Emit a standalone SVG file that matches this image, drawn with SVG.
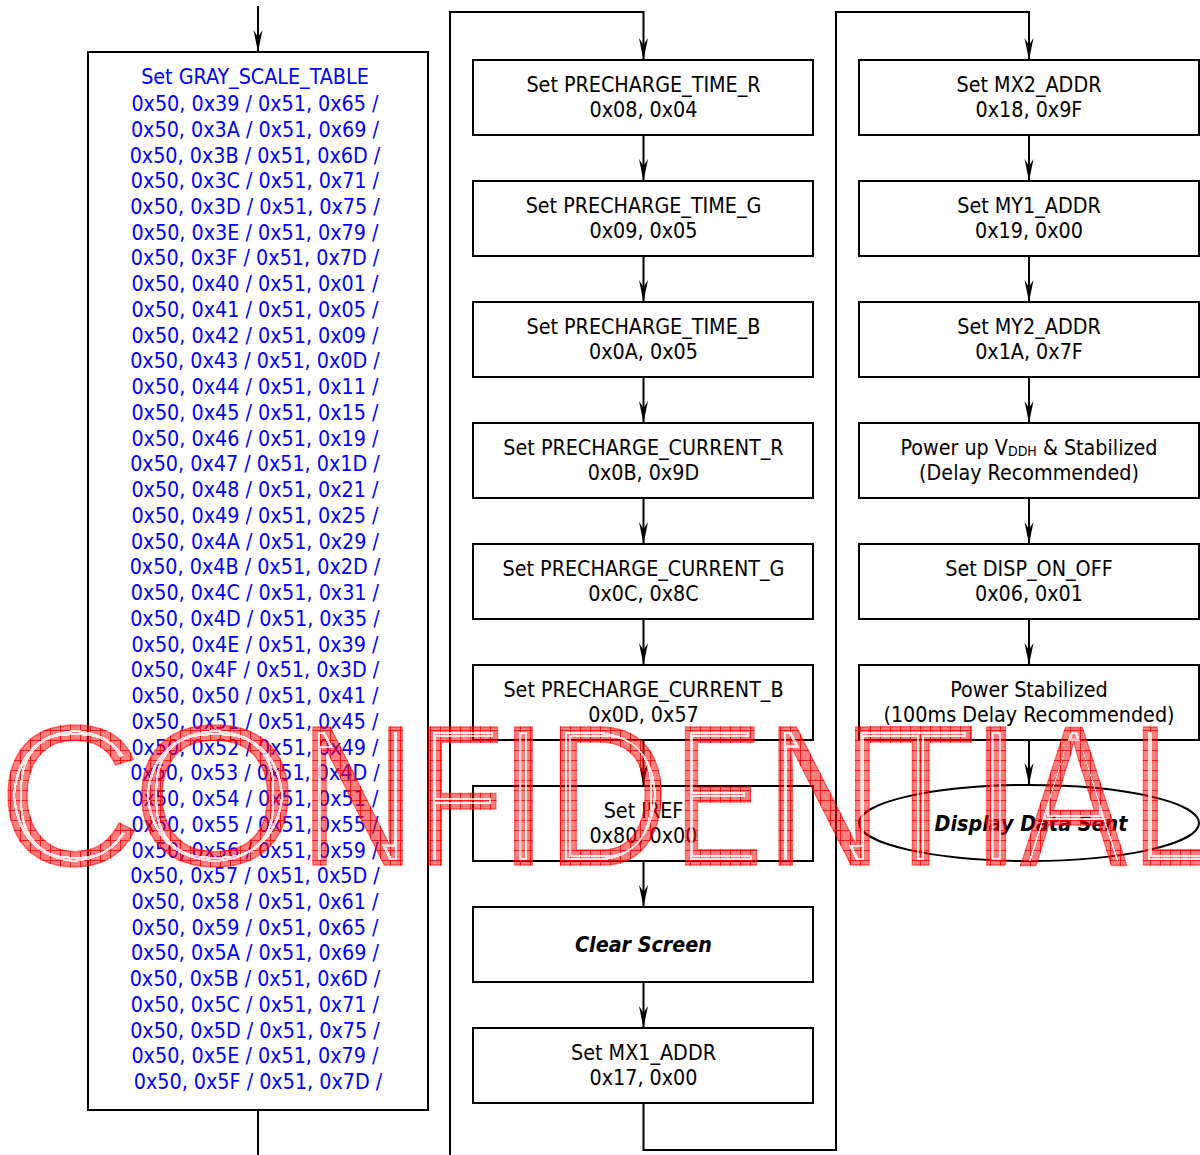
<svg xmlns="http://www.w3.org/2000/svg" width="1200" height="1155" viewBox="0 0 1200 1155">
<style>
.bx{fill:#fff;stroke:#000;stroke-width:2}
.t{font-family:"DejaVu Sans","Liberation Sans",sans-serif;font-stretch:condensed;font-size:21.3px;text-anchor:middle;fill:#000}
.bl{fill:#0000ff}
.bi{font-weight:bold;font-style:italic}
.cn{fill:none;stroke:#000;stroke-width:2}
.wm{font-family:"Liberation Sans",Arial,sans-serif;font-size:200px;fill:url(#hatch);stroke:url(#hatch);stroke-width:1.5}
</style>
<defs>
<marker id="ah" markerUnits="userSpaceOnUse" markerWidth="22" markerHeight="10" refX="22" refY="5" orient="auto" viewBox="0 0 22 10">
<path d="M0,0.5 L22,5 L0,9.5 L7,5 Z" fill="#000"/>
</marker>
<pattern id="hatch" patternUnits="userSpaceOnUse" width="10" height="10">
<rect width="10" height="10" fill="#ff0000" fill-opacity="0.5"/>
<path d="M0,0.5 H10 M0.5,0 V10" stroke="#ff0000" stroke-width="1" stroke-opacity="0.8"/>
</pattern>
<filter id="wmf" filterUnits="userSpaceOnUse" x="-20" y="680" width="1240" height="220">
<feColorMatrix in="SourceAlpha" type="matrix" values="0 0 0 0 0 0 0 0 0 0 0 0 0 0 0 0 0 0 20 0" result="solid"/>
<feMorphology in="solid" operator="erode" radius="6" result="e1"/>
<feMorphology in="solid" operator="erode" radius="8" result="e2"/>
<feComposite in="e1" in2="e2" operator="out" result="ring"/>
<feFlood flood-color="#ffffff" flood-opacity="0.65"/>
<feComposite in2="ring" operator="in" result="wl"/>
<feMerge><feMergeNode in="SourceGraphic"/><feMergeNode in="wl"/></feMerge>
</filter>
</defs>
<rect width="1200" height="1155" fill="#fff"/>

<g id="connectors">
<path class="cn" d="M258,6 V52" marker-end="url(#ah)"/>
<path class="cn" d="M258,1110 V1155"/>
<path class="cn" d="M450,1155 V12 H643.5 V60" marker-end="url(#ah)"/>
<path class="cn" d="M643.5,135 V181" marker-end="url(#ah)"/>
<path class="cn" d="M643.5,256 V302" marker-end="url(#ah)"/>
<path class="cn" d="M643.5,377 V423" marker-end="url(#ah)"/>
<path class="cn" d="M643.5,498 V544" marker-end="url(#ah)"/>
<path class="cn" d="M643.5,619 V665" marker-end="url(#ah)"/>
<path class="cn" d="M643.5,740 V786" marker-end="url(#ah)"/>
<path class="cn" d="M643.5,861 V907" marker-end="url(#ah)"/>
<path class="cn" d="M643.5,982 V1028" marker-end="url(#ah)"/>
<path class="cn" d="M643.5,1103 V1150 H836 V12 H1029 V60" marker-end="url(#ah)"/>
<path class="cn" d="M1029,135 V181" marker-end="url(#ah)"/>
<path class="cn" d="M1029,256 V302" marker-end="url(#ah)"/>
<path class="cn" d="M1029,377 V423" marker-end="url(#ah)"/>
<path class="cn" d="M1029,498 V544" marker-end="url(#ah)"/>
<path class="cn" d="M1029,619 V665" marker-end="url(#ah)"/>
<path class="cn" d="M1029,740 V785" marker-end="url(#ah)"/>
</g>

<g id="gray_scale_table">
<rect class="bx" x="88" y="52" width="340" height="1058"/>
<text class="t bl">
<tspan x="258" y="83.5">Set GRAY_SCALE_TABLE</tspan>
<tspan x="258" y="111">0x50, 0x39 / 0x51, 0x65 /</tspan>
<tspan x="258" y="136.7">0x50, 0x3A / 0x51, 0x69 /</tspan>
<tspan x="258" y="162.5">0x50, 0x3B / 0x51, 0x6D /</tspan>
<tspan x="258" y="188.2">0x50, 0x3C / 0x51, 0x71 /</tspan>
<tspan x="258" y="214">0x50, 0x3D / 0x51, 0x75 /</tspan>
<tspan x="258" y="239.7">0x50, 0x3E / 0x51, 0x79 /</tspan>
<tspan x="258" y="265.4">0x50, 0x3F / 0x51, 0x7D /</tspan>
<tspan x="258" y="291.2">0x50, 0x40 / 0x51, 0x01 /</tspan>
<tspan x="258" y="316.9">0x50, 0x41 / 0x51, 0x05 /</tspan>
<tspan x="258" y="342.7">0x50, 0x42 / 0x51, 0x09 /</tspan>
<tspan x="258" y="368.4">0x50, 0x43 / 0x51, 0x0D /</tspan>
<tspan x="258" y="394.1">0x50, 0x44 / 0x51, 0x11 /</tspan>
<tspan x="258" y="419.9">0x50, 0x45 / 0x51, 0x15 /</tspan>
<tspan x="258" y="445.6">0x50, 0x46 / 0x51, 0x19 /</tspan>
<tspan x="258" y="471.4">0x50, 0x47 / 0x51, 0x1D /</tspan>
<tspan x="258" y="497.1">0x50, 0x48 / 0x51, 0x21 /</tspan>
<tspan x="258" y="522.8">0x50, 0x49 / 0x51, 0x25 /</tspan>
<tspan x="258" y="548.6">0x50, 0x4A / 0x51, 0x29 /</tspan>
<tspan x="258" y="574.3">0x50, 0x4B / 0x51, 0x2D /</tspan>
<tspan x="258" y="600.1">0x50, 0x4C / 0x51, 0x31 /</tspan>
<tspan x="258" y="625.8">0x50, 0x4D / 0x51, 0x35 /</tspan>
<tspan x="258" y="651.5">0x50, 0x4E / 0x51, 0x39 /</tspan>
<tspan x="258" y="677.3">0x50, 0x4F / 0x51, 0x3D /</tspan>
<tspan x="258" y="703">0x50, 0x50 / 0x51, 0x41 /</tspan>
<tspan x="258" y="728.8">0x50, 0x51 / 0x51, 0x45 /</tspan>
<tspan x="258" y="754.5">0x50, 0x52 / 0x51, 0x49 /</tspan>
<tspan x="258" y="780.2">0x50, 0x53 / 0x51, 0x4D /</tspan>
<tspan x="258" y="806">0x50, 0x54 / 0x51, 0x51 /</tspan>
<tspan x="258" y="831.7">0x50, 0x55 / 0x51, 0x55 /</tspan>
<tspan x="258" y="857.5">0x50, 0x56 / 0x51, 0x59 /</tspan>
<tspan x="258" y="883.2">0x50, 0x57 / 0x51, 0x5D /</tspan>
<tspan x="258" y="908.9">0x50, 0x58 / 0x51, 0x61 /</tspan>
<tspan x="258" y="934.7">0x50, 0x59 / 0x51, 0x65 /</tspan>
<tspan x="258" y="960.4">0x50, 0x5A / 0x51, 0x69 /</tspan>
<tspan x="258" y="986.2">0x50, 0x5B / 0x51, 0x6D /</tspan>
<tspan x="258" y="1011.9">0x50, 0x5C / 0x51, 0x71 /</tspan>
<tspan x="258" y="1037.6">0x50, 0x5D / 0x51, 0x75 /</tspan>
<tspan x="258" y="1063.4">0x50, 0x5E / 0x51, 0x79 /</tspan>
<tspan x="258" y="1089.1">0x50, 0x5F / 0x51, 0x7D /</tspan>
</text>
</g>

<g id="precharge_time_r">
<rect class="bx" x="473" y="60" width="340" height="75"/>
<text class="t"><tspan x="643.5" y="92">Set PRECHARGE_TIME_R</tspan><tspan x="643.5" y="117">0x08, 0x04</tspan></text>
</g>
<g id="precharge_time_g">
<rect class="bx" x="473" y="181" width="340" height="75"/>
<text class="t"><tspan x="643.5" y="213">Set PRECHARGE_TIME_G</tspan><tspan x="643.5" y="238">0x09, 0x05</tspan></text>
</g>
<g id="precharge_time_b">
<rect class="bx" x="473" y="302" width="340" height="75"/>
<text class="t"><tspan x="643.5" y="334">Set PRECHARGE_TIME_B</tspan><tspan x="643.5" y="359">0x0A, 0x05</tspan></text>
</g>
<g id="precharge_current_r">
<rect class="bx" x="473" y="423" width="340" height="75"/>
<text class="t"><tspan x="643.5" y="455">Set PRECHARGE_CURRENT_R</tspan><tspan x="643.5" y="480">0x0B, 0x9D</tspan></text>
</g>
<g id="precharge_current_g">
<rect class="bx" x="473" y="544" width="340" height="75"/>
<text class="t"><tspan x="643.5" y="576">Set PRECHARGE_CURRENT_G</tspan><tspan x="643.5" y="601">0x0C, 0x8C</tspan></text>
</g>
<g id="precharge_current_b">
<rect class="bx" x="473" y="665" width="340" height="75"/>
<text class="t"><tspan x="643.5" y="697">Set PRECHARGE_CURRENT_B</tspan><tspan x="643.5" y="722">0x0D, 0x57</tspan></text>
</g>
<g id="iref">
<rect class="bx" x="473" y="786" width="340" height="75"/>
<text class="t"><tspan x="643.5" y="818">Set IREF</tspan><tspan x="643.5" y="843">0x80, 0x00</tspan></text>
</g>
<g id="clear_screen">
<rect class="bx" x="473" y="907" width="340" height="75"/>
<text class="t bi" x="643.5" y="952">Clear Screen</text>
</g>
<g id="mx1_addr">
<rect class="bx" x="473" y="1028" width="340" height="75"/>
<text class="t"><tspan x="643.5" y="1060">Set MX1_ADDR</tspan><tspan x="643.5" y="1085">0x17, 0x00</tspan></text>
</g>

<g id="mx2_addr">
<rect class="bx" x="859" y="60" width="340" height="75"/>
<text class="t"><tspan x="1029" y="92">Set MX2_ADDR</tspan><tspan x="1029" y="117">0x18, 0x9F</tspan></text>
</g>
<g id="my1_addr">
<rect class="bx" x="859" y="181" width="340" height="75"/>
<text class="t"><tspan x="1029" y="213">Set MY1_ADDR</tspan><tspan x="1029" y="238">0x19, 0x00</tspan></text>
</g>
<g id="my2_addr">
<rect class="bx" x="859" y="302" width="340" height="75"/>
<text class="t"><tspan x="1029" y="334">Set MY2_ADDR</tspan><tspan x="1029" y="359">0x1A, 0x7F</tspan></text>
</g>
<g id="power_up_vddh">
<rect class="bx" x="859" y="423" width="340" height="75"/>
<text class="t" x="1029" y="455">Power up V<tspan font-size="14" dy="1">DDH</tspan><tspan dy="-1"> &amp; Stabilized</tspan></text>
<text class="t" x="1029" y="480">(Delay Recommended)</text>
</g>
<g id="disp_on_off">
<rect class="bx" x="859" y="544" width="340" height="75"/>
<text class="t"><tspan x="1029" y="576">Set DISP_ON_OFF</tspan><tspan x="1029" y="601">0x06, 0x01</tspan></text>
</g>
<g id="power_stabilized">
<rect class="bx" x="859" y="665" width="340" height="75"/>
<text class="t"><tspan x="1029" y="697">Power Stabilized</tspan><tspan x="1029" y="722">(100ms Delay Recommended)</tspan></text>
</g>
<g id="display_data_sent">
<ellipse cx="1029" cy="823" rx="170" ry="38" fill="#fff" stroke="#000" stroke-width="2"/>
<text class="t bi" x="1031" y="831">Display Data Sent</text>
</g>

<g id="watermark" filter="url(#wmf)">
<text class="wm" y="865"><tspan x="-2" textLength="144" lengthAdjust="spacingAndGlyphs">C</tspan><tspan x="131.7" textLength="166.5" lengthAdjust="spacingAndGlyphs">O</tspan><tspan x="299.8" textLength="115.5" lengthAdjust="spacingAndGlyphs">N</tspan><tspan x="416.4" textLength="86.8" lengthAdjust="spacingAndGlyphs">F</tspan><tspan x="497.3" textLength="52.3" lengthAdjust="spacingAndGlyphs">I</tspan><tspan x="546.6" textLength="122.7" lengthAdjust="spacingAndGlyphs">D</tspan><tspan x="674.6" textLength="88" lengthAdjust="spacingAndGlyphs">E</tspan><tspan x="765.7" textLength="116.5" lengthAdjust="spacingAndGlyphs">N</tspan><tspan x="866.1" textLength="109.4" lengthAdjust="spacingAndGlyphs">T</tspan><tspan x="968.2" textLength="55.6" lengthAdjust="spacingAndGlyphs">I</tspan><tspan x="1020.2" textLength="106.7" lengthAdjust="spacingAndGlyphs">A</tspan><tspan x="1131" textLength="83.4" lengthAdjust="spacingAndGlyphs">L</tspan></text>
</g>
</svg>
